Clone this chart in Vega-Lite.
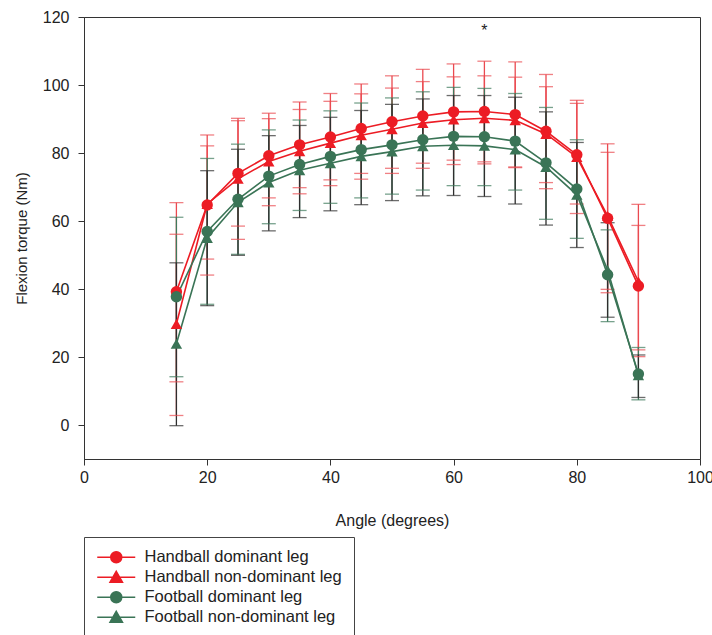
{
  "$schema": "https://vega.github.io/schema/vega-lite/v6.json",
  "width": 616,
  "height": 442,
  "autosize": {"type": "none"},
  "padding": {"left": 84, "top": 17, "right": 12, "bottom": 176},
  "background": "white",
  "config": {
    "view": {"stroke": "#333", "strokeWidth": 1},
    "axis": {
      "grid": false,
      "domainColor": "#333",
      "tickColor": "#333",
      "tickSize": 6,
      "labelColor": "#222",
      "labelFont": "Liberation Sans",
      "labelFontSize": 16,
      "labelFlush": false,
      "titleFont": "Liberation Sans",
      "titleFontWeight": "normal",
      "titleColor": "#222"
    }
  },
  "datasets": {
    "main": [
      {"angle": 15, "series": "Handball dominant leg", "mean": 39.2, "lo": 12.7, "hi": 65.4},
      {"angle": 20, "series": "Handball dominant leg", "mean": 64.7, "lo": 44.1, "hi": 85.3},
      {"angle": 25, "series": "Handball dominant leg", "mean": 74.0, "lo": 58.5, "hi": 89.5},
      {"angle": 30, "series": "Handball dominant leg", "mean": 79.2, "lo": 66.8, "hi": 91.7},
      {"angle": 35, "series": "Handball dominant leg", "mean": 82.4, "lo": 69.8, "hi": 95.0},
      {"angle": 40, "series": "Handball dominant leg", "mean": 84.7, "lo": 72.1, "hi": 97.5},
      {"angle": 45, "series": "Handball dominant leg", "mean": 87.2, "lo": 74.0, "hi": 100.3},
      {"angle": 50, "series": "Handball dominant leg", "mean": 89.2, "lo": 75.5, "hi": 102.7},
      {"angle": 55, "series": "Handball dominant leg", "mean": 90.9, "lo": 77.0, "hi": 104.6},
      {"angle": 60, "series": "Handball dominant leg", "mean": 92.1, "lo": 77.9, "hi": 106.2},
      {"angle": 65, "series": "Handball dominant leg", "mean": 92.2, "lo": 77.4, "hi": 107.0},
      {"angle": 70, "series": "Handball dominant leg", "mean": 91.3, "lo": 75.7, "hi": 106.8},
      {"angle": 75, "series": "Handball dominant leg", "mean": 86.4, "lo": 69.5, "hi": 103.1},
      {"angle": 80, "series": "Handball dominant leg", "mean": 79.5, "lo": 65.0, "hi": 94.6},
      {"angle": 85, "series": "Handball dominant leg", "mean": 60.8, "lo": 38.9, "hi": 82.7},
      {"angle": 90, "series": "Handball dominant leg", "mean": 40.9, "lo": 22.1, "hi": 58.7},
      {"angle": 15, "series": "Handball non-dominant leg", "mean": 29.7, "lo": 2.8, "hi": 56.1},
      {"angle": 20, "series": "Handball non-dominant leg", "mean": 65.0, "lo": 48.8, "hi": 82.1},
      {"angle": 25, "series": "Handball non-dominant leg", "mean": 72.4, "lo": 54.6, "hi": 90.2},
      {"angle": 30, "series": "Handball non-dominant leg", "mean": 77.5, "lo": 64.5, "hi": 90.1},
      {"angle": 35, "series": "Handball non-dominant leg", "mean": 80.5, "lo": 68.0, "hi": 92.8},
      {"angle": 40, "series": "Handball non-dominant leg", "mean": 82.9, "lo": 70.4, "hi": 95.2},
      {"angle": 45, "series": "Handball non-dominant leg", "mean": 85.2, "lo": 72.3, "hi": 97.4},
      {"angle": 50, "series": "Handball non-dominant leg", "mean": 87.0, "lo": 74.0, "hi": 99.1},
      {"angle": 55, "series": "Handball non-dominant leg", "mean": 88.8, "lo": 75.5, "hi": 101.0},
      {"angle": 60, "series": "Handball non-dominant leg", "mean": 89.8, "lo": 76.6, "hi": 102.4},
      {"angle": 65, "series": "Handball non-dominant leg", "mean": 90.2, "lo": 76.8, "hi": 102.7},
      {"angle": 70, "series": "Handball non-dominant leg", "mean": 89.6, "lo": 75.9, "hi": 102.3},
      {"angle": 75, "series": "Handball non-dominant leg", "mean": 85.6, "lo": 71.3, "hi": 99.5},
      {"angle": 80, "series": "Handball non-dominant leg", "mean": 78.8, "lo": 62.2, "hi": 95.5},
      {"angle": 85, "series": "Handball non-dominant leg", "mean": 61.5, "lo": 39.9, "hi": 80.2},
      {"angle": 90, "series": "Handball non-dominant leg", "mean": 42.2, "lo": 20.1, "hi": 64.9},
      {"angle": 15, "series": "Football dominant leg", "mean": 37.7, "lo": 14.2, "hi": 61.1},
      {"angle": 20, "series": "Football dominant leg", "mean": 56.9, "lo": 35.5, "hi": 78.4},
      {"angle": 25, "series": "Football dominant leg", "mean": 66.4, "lo": 50.2, "hi": 82.6},
      {"angle": 30, "series": "Football dominant leg", "mean": 73.2, "lo": 59.2, "hi": 86.8},
      {"angle": 35, "series": "Football dominant leg", "mean": 76.6, "lo": 63.1, "hi": 89.7},
      {"angle": 40, "series": "Football dominant leg", "mean": 79.0, "lo": 65.2, "hi": 92.4},
      {"angle": 45, "series": "Football dominant leg", "mean": 81.0, "lo": 66.8, "hi": 94.7},
      {"angle": 50, "series": "Football dominant leg", "mean": 82.4, "lo": 67.9, "hi": 96.2},
      {"angle": 55, "series": "Football dominant leg", "mean": 83.9, "lo": 69.1, "hi": 98.0},
      {"angle": 60, "series": "Football dominant leg", "mean": 84.9, "lo": 70.4, "hi": 99.3},
      {"angle": 65, "series": "Football dominant leg", "mean": 84.8, "lo": 70.4, "hi": 99.0},
      {"angle": 70, "series": "Football dominant leg", "mean": 83.5, "lo": 69.1, "hi": 97.5},
      {"angle": 75, "series": "Football dominant leg", "mean": 77.1, "lo": 60.5, "hi": 93.4},
      {"angle": 80, "series": "Football dominant leg", "mean": 69.4, "lo": 54.9, "hi": 83.9},
      {"angle": 85, "series": "Football dominant leg", "mean": 44.2, "lo": 30.4, "hi": 57.4},
      {"angle": 90, "series": "Football dominant leg", "mean": 15.0, "lo": 7.4, "hi": 22.8},
      {"angle": 15, "series": "Football non-dominant leg", "mean": 23.9, "lo": -0.2, "hi": 47.7},
      {"angle": 20, "series": "Football non-dominant leg", "mean": 55.0, "lo": 35.1, "hi": 74.8},
      {"angle": 25, "series": "Football non-dominant leg", "mean": 65.5, "lo": 49.9, "hi": 81.1},
      {"angle": 30, "series": "Football non-dominant leg", "mean": 71.3, "lo": 57.1, "hi": 85.1},
      {"angle": 35, "series": "Football non-dominant leg", "mean": 74.9, "lo": 61.0, "hi": 88.1},
      {"angle": 40, "series": "Football non-dominant leg", "mean": 77.0, "lo": 63.0, "hi": 90.5},
      {"angle": 45, "series": "Football non-dominant leg", "mean": 79.0, "lo": 64.8, "hi": 92.5},
      {"angle": 50, "series": "Football non-dominant leg", "mean": 80.4, "lo": 66.0, "hi": 94.3},
      {"angle": 55, "series": "Football non-dominant leg", "mean": 82.0, "lo": 67.4, "hi": 95.9},
      {"angle": 60, "series": "Football non-dominant leg", "mean": 82.3, "lo": 67.5, "hi": 96.9},
      {"angle": 65, "series": "Football non-dominant leg", "mean": 82.1, "lo": 67.2, "hi": 96.9},
      {"angle": 70, "series": "Football non-dominant leg", "mean": 81.0, "lo": 65.0, "hi": 96.4},
      {"angle": 75, "series": "Football non-dominant leg", "mean": 75.9, "lo": 58.8, "hi": 92.1},
      {"angle": 80, "series": "Football non-dominant leg", "mean": 67.7, "lo": 52.2, "hi": 83.1},
      {"angle": 85, "series": "Football non-dominant leg", "mean": 45.6, "lo": 31.7, "hi": 59.5},
      {"angle": 90, "series": "Football non-dominant leg", "mean": 14.6, "lo": 8.1, "hi": 20.6}
    ],
    "notes": [
      {"angle": 65, "value": 115.8, "label": "*"}
    ]
  },
  "encoding": {
    "x": {
      "field": "angle", "type": "quantitative",
      "scale": {"domain": [0, 100], "nice": false, "zero": false},
      "axis": {"values": [0, 20, 40, 60, 80, 100], "title": "Angle (degrees)", "titleFontSize": 16, "labelPadding": 4, "titlePadding": 27}
    }
  },
  "layer": [
    {
      "data": {"name": "main"},
      "mark": {"type": "rule", "strokeWidth": 1.3},
      "encoding": {
        "y": {
          "field": "lo", "type": "quantitative",
          "scale": {"domain": [-10, 120], "nice": false, "zero": false},
          "axis": {"values": [0, 20, 40, 60, 80, 100, 120], "title": "Flexion torque (Nm)", "titleFontSize": 15, "labelPadding": 9, "titlePadding": 13}
        },
        "y2": {"field": "hi"},
        "stroke": {
          "field": "series", "type": "nominal",
          "scale": {"range": ["#3f7a5c", "#2e2e2e", "#ea4a50", "#ea4a50"]},
          "legend": null
        }
      }
    },
    {
      "data": {"name": "main"},
      "mark": {"type": "tick", "orient": "horizontal", "size": 14, "thickness": 1.3},
      "encoding": {
        "y": {"field": "lo", "type": "quantitative"},
        "fill": {
          "field": "series", "type": "nominal",
          "scale": {"range": ["#3f7a5c", "#2e2e2e", "#ea4a50", "#ea4a50"]},
          "legend": null
        }
      }
    },
    {
      "data": {"name": "main"},
      "mark": {"type": "tick", "orient": "horizontal", "size": 14, "thickness": 1.3},
      "encoding": {
        "y": {"field": "hi", "type": "quantitative"},
        "fill": {"field": "series", "type": "nominal", "legend": null}
      }
    },
    {
      "data": {"name": "main"},
      "mark": {"type": "line", "strokeWidth": 1.6},
      "encoding": {
        "y": {"field": "mean", "type": "quantitative"},
        "color": {
          "field": "series", "type": "nominal",
          "scale": {"domain": ["Handball dominant leg", "Handball non-dominant leg", "Football dominant leg", "Football non-dominant leg"], "range": ["#ec1c24", "#ec1c24", "#3a7456", "#3a7456"]},
          "legend": {
            "orient": "none",
            "legendX": 0,
            "legendY": 520,
            "title": null,
            "strokeColor": "#444",
            "padding": 12,
            "symbolOffset": 12,
            "labelOffset": 20,
            "labelLimit": 400,
            "rowPadding": 2,
            "labelFont": "Liberation Sans",
            "labelFontSize": 16.5,
            "labelColor": "#222",
            "symbolSize": 100,
            "symbolStrokeWidth": 1.5,
            "encode": {
              "symbols": {
                "update": {
                  "shape": {"signal": "indexof(datum.value, 'non-dominant') >= 0 ? 'M-3.8,0H3.8M0,-1.2L1.25,1L-1.25,1Z' : 'M-3.8,0H3.8M1.1,0A1.1,1.1,0,1,1,-1.1,0A1.1,1.1,0,1,1,1.1,0Z'"},
                  "fill": {"scale": "color", "field": "value"},
                  "stroke": {"scale": "color", "field": "value"},
                  "strokeWidth": {"value": 1.5},
                  "opacity": {"value": 1},
                  "fillOpacity": {"value": 1}
                }
              }
            }
          }
        }
      }
    },
    {
      "data": {"name": "main"},
      "mark": {"type": "point", "filled": true, "size": 130, "opacity": 1},
      "encoding": {
        "y": {"field": "mean", "type": "quantitative"},
        "color": {"field": "series", "type": "nominal"},
        "shape": {
          "field": "series", "type": "nominal",
          "scale": {"range": ["circle", "triangle-up", "circle", "triangle-up"]},
          "legend": null
        }
      }
    },
    {
      "data": {"name": "notes"},
      "mark": {"type": "text", "font": "Liberation Sans", "fontSize": 16, "color": "#222", "baseline": "middle"},
      "encoding": {
        "y": {"field": "value", "type": "quantitative"},
        "text": {"field": "label"}
      }
    }
  ]
}
